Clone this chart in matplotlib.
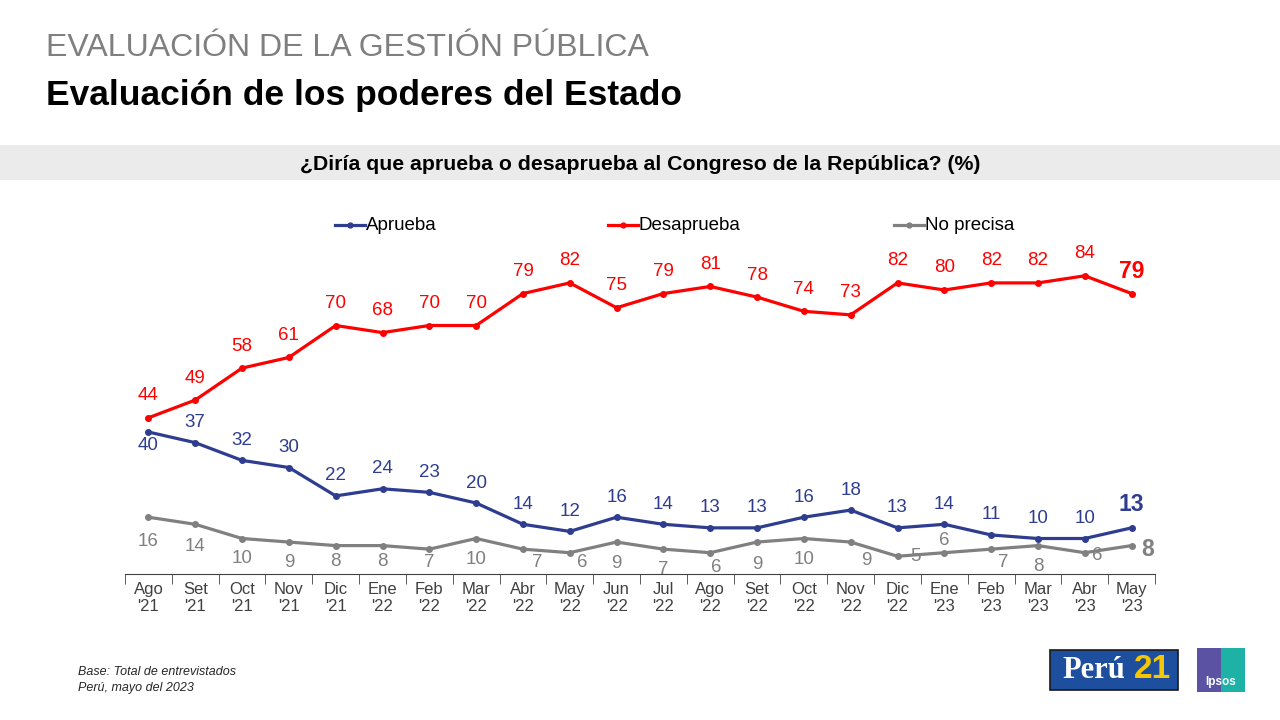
import matplotlib.pyplot as plt
from matplotlib.lines import Line2D
from matplotlib.patches import Rectangle

plt.rcParams['font.family'] = ['Liberation Sans', 'DejaVu Sans']

# Data
months = ["Ago\n'21", "Set\n'21", "Oct\n'21", "Nov\n'21", "Dic\n'21", "Ene\n'22", "Feb\n'22",
          "Mar\n'22", "Abr\n'22", "May\n'22", "Jun\n'22", "Jul\n'22", "Ago\n'22", "Set\n'22",
          "Oct\n'22", "Nov\n'22", "Dic\n'22", "Ene\n'23", "Feb\n'23", "Mar\n'23", "Abr\n'23",
          "May\n'23"]
aprueba = [40, 37, 32, 30, 22, 24, 23, 20, 14, 12, 16, 14, 13, 13, 16, 18, 13, 14, 11, 10, 10, 13]
desaprueba = [44, 49, 58, 61, 70, 68, 70, 70, 79, 82, 75, 79, 81, 78, 74, 73, 82, 80, 82, 82, 84, 79]
no_precisa = [16, 14, 10, 9, 8, 8, 7, 10, 7, 6, 9, 7, 6, 9, 10, 9, 5, 6, 7, 8, 6, 8]
series_names = ['Aprueba', 'Desaprueba', 'No precisa']

BLUE = '#2E3D8F'
RED = '#FF0000'
GRAY = '#808080'

# label offsets in pixels (dx, dy) for the gray series
gray_off = [(0, -24), (0, -22), (0, -20), (0, -20), (0, -16), (0, -16), (0, -13), (0, -21),
            (14, -13), (12, -10), (0, -21), (0, -20), (6, -15), (0, -22), (0, -21), (16, -18),
            (18, 0), (0, 12), (12, -13), (0, -21), (12, -3), (10, -4)]

W, H = 1280, 720
fig = plt.figure(figsize=(12.8, 7.2), dpi=100)
ax = fig.add_axes([125 / W, (H - 574) / H, 1030 / W, 355 / H])

x = list(range(len(months)))
ax.plot(x, aprueba, color=BLUE, lw=2.3, marker='o', ms=4, zorder=3)
ax.plot(x, desaprueba, color=RED, lw=2.3, marker='o', ms=4, zorder=3)
ax.plot(x, no_precisa, color=GRAY, lw=2.3, marker='o', ms=4, zorder=3)

last = len(x) - 1
for i in x:
    big = i == last
    fw = 'bold' if big else 'normal'
    fs = 16.5 if big else 13.5
    ax.annotate(str(desaprueba[i]), (i, desaprueba[i]), xytext=(0, 22), textcoords='offset pixels',
                ha='center', va='center', color=RED, fontsize=fs, fontweight=fw)
    dy = -14 if i == 0 else (23 if big else 20)
    ax.annotate(str(aprueba[i]), (i, aprueba[i]), xytext=(0, dy), textcoords='offset pixels',
                ha='center', va='center', color=BLUE, fontsize=fs, fontweight=fw)
    dx, dy = gray_off[i]
    ax.annotate(str(no_precisa[i]), (i, no_precisa[i]), xytext=(dx, dy), textcoords='offset pixels',
                ha='left' if big else 'center', va='center', color=GRAY, fontsize=fs, fontweight=fw)

ax.set_xlim(-0.5, len(months) - 0.5)
ax.set_ylim(0, 100)
for s in ['top', 'right', 'left']:
    ax.spines[s].set_visible(False)
ax.spines['bottom'].set_color('#404040')
ax.set_yticks([])
ax.set_xticks(x)
ax.set_xticklabels(months, fontsize=12, color='#404040', linespacing=1.15)
ax.tick_params(axis='x', which='major', length=0, pad=6)
ax.set_xticks([i - 0.5 for i in range(len(months) + 1)], minor=True)
ax.tick_params(axis='x', which='minor', length=7, color='#404040', direction='out')

# legend, placed by hand
leg_x = [335, 608, 894]
for lx, c, name in zip(leg_x, (BLUE, RED, GRAY), series_names):
    fig.add_artist(Line2D([lx / W, (lx + 30) / W], [1 - 225 / H] * 2, color=c, lw=2.3))
    fig.add_artist(Line2D([(lx + 15) / W], [1 - 225 / H], color=c, marker='o', ms=3.5))
    fig.text((lx + 31) / W, 1 - 225 / H, name, fontsize=13.5, va='center', ha='left')

# titles
fig.text(46 / W, 1 - 48 / H, 'EVALUACIÓN DE LA GESTIÓN PÚBLICA', fontsize=23,
         color='#7F7F7F', va='center', ha='left')
fig.text(46 / W, 1 - 95 / H, 'Evaluación de los poderes del Estado', fontsize=25.5,
         fontweight='bold', color='black', va='center', ha='left')
fig.patches.append(Rectangle((0, 1 - 180 / H), 1, 35 / H, transform=fig.transFigure,
                             facecolor='#EBEBEB', edgecolor='none', zorder=0))
fig.text(0.5, 1 - 164 / H, '¿Diría que aprueba o desaprueba al Congreso de la República? (%)',
         fontsize=15.3, fontweight='bold', ha='center', va='center')

# footnote
fig.text(78 / W, 1 - 672 / H, 'Base: Total de entrevistados', fontsize=9, style='italic',
         va='center', color='#262626')
fig.text(78 / W, 1 - 688 / H, 'Perú, mayo del 2023', fontsize=9, style='italic',
         va='center', color='#262626')

# logos
fig.patches.append(Rectangle((1050 / W, 1 - 690 / H), 128 / W, 40 / H,
                             transform=fig.transFigure, facecolor='#1D4F9E', edgecolor='#1a1a1a',
                             lw=1.2))
fig.text(1094 / W, 1 - 670 / H, 'Perú', fontsize=22, fontweight='bold', color='white',
         family='Liberation Serif', ha='center', va='center')
fig.text(1152 / W, 1 - 670 / H, '21', fontsize=24, fontweight='bold', color='#F7C600',
         ha='center', va='center')
fig.patches.append(Rectangle((1197 / W, 1 - 692 / H), 24 / W, 44 / H,
                             transform=fig.transFigure, facecolor='#5B52A3', edgecolor='none'))
fig.patches.append(Rectangle((1221 / W, 1 - 692 / H), 24 / W, 44 / H,
                             transform=fig.transFigure, facecolor='#1EB2A6', edgecolor='none'))
fig.text(1221 / W, 1 - 682 / H, 'Ipsos', fontsize=8.5, fontweight='bold', color='white',
         ha='center', va='center')

fig.savefig('out.png', dpi=100)
